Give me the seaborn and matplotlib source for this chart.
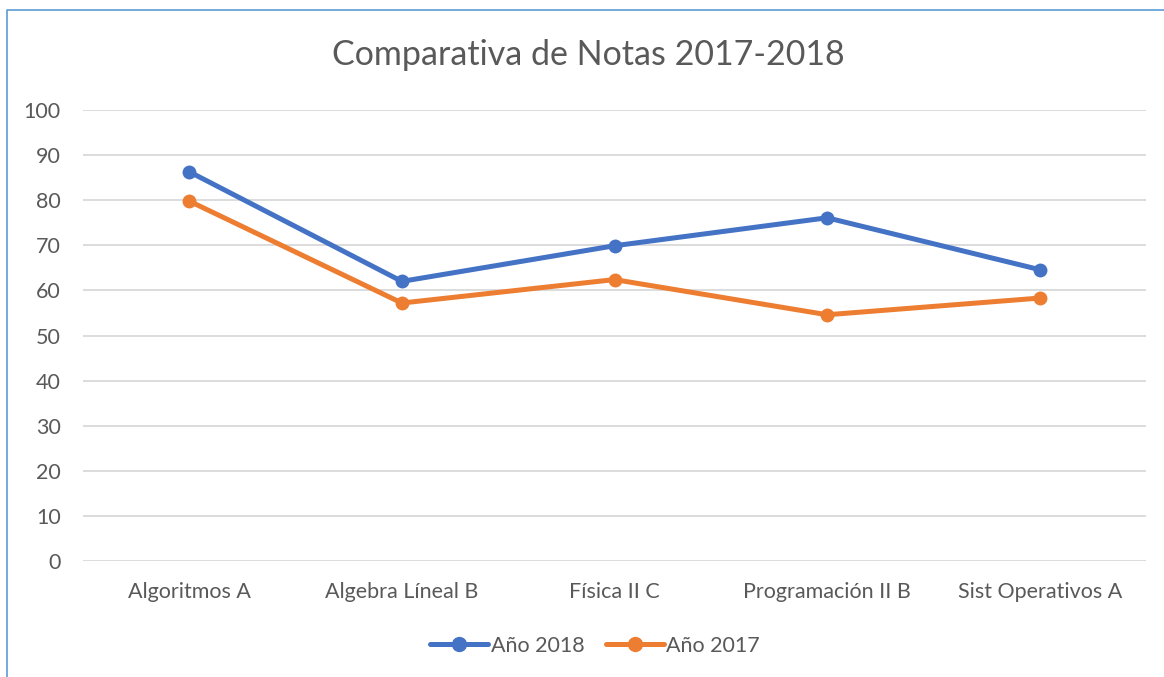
import matplotlib
matplotlib.use("Agg")
import matplotlib.pyplot as plt
import seaborn as sns
import pandas as pd
from matplotlib.lines import Line2D

materias = ["Algoritmos A", "Algebra Líneal B", "Física II C", "Programación II B", "Sist Operativos A"]
notas_2018 = [86.3, 62.0, 69.9, 76.1, 64.6]
notas_2017 = [79.8, 57.2, 62.4, 54.6, 58.3]
series = ["Año 2018", "Año 2017"]
colores = ["#4472C4", "#ED7D31"]

df = pd.DataFrame({
    "Materia": materias * 2,
    "Nota": notas_2018 + notas_2017,
    "Serie": [series[0]] * len(materias) + [series[1]] * len(materias),
})

sns.set_style("white")
plt.rcParams["font.family"] = ["Lato", "DejaVu Sans"]
gris = "#595959"

fig = plt.figure(figsize=(11.64, 6.77), dpi=100)
ax = fig.add_axes([83 / 1164, 1 - 561 / 677, (1146 - 83) / 1164, (561 - 110) / 677])

sns.lineplot(data=df, x="Materia", y="Nota", hue="Serie", palette=colores,
             marker="o", markersize=10, markeredgewidth=0, linewidth=3.6,
             sort=False, ax=ax, legend=False)

ax.set_xlim(-0.5, len(materias) - 0.5)
ax.set_ylim(0, 100)
ax.set_yticks(range(0, 101, 10))
ax.yaxis.grid(True, color="#D9D9D9", linewidth=1.3)
ax.set_axisbelow(True)
for s in ax.spines.values():
    s.set_visible(False)
ax.tick_params(axis="both", length=0, labelsize=15.5, labelcolor=gris)
ax.tick_params(axis="x", pad=15)
ax.tick_params(axis="y", pad=16)
ax.set_xlabel("")
ax.set_ylabel("")

fig.text(0.5 + 6 / 1164, 1 - 55 / 677, "Comparativa de Notas 2017-2018", ha="center", va="center",
         fontsize=24.5, color=gris)

handles = [Line2D([0], [0], color=c, linewidth=3.6, marker="o", markersize=10) for c in colores]
fig.legend(handles, series, loc="center", bbox_to_anchor=(595 / 1164, 1 - 646 / 677), ncol=2,
           frameon=False, fontsize=15.5, labelcolor=gris, handlelength=2.7,
           handletextpad=0.1, columnspacing=1.0)

# borde del gráfico (sólo arriba e izquierda visibles)
borde = Line2D([7 / 1164, 7 / 1164, 1], [0, 1 - 10 / 677, 1 - 10 / 677],
               transform=fig.transFigure, color="#5B9BD5", linewidth=1.2)
fig.add_artist(borde)

fig.savefig("out.png", dpi=100)
